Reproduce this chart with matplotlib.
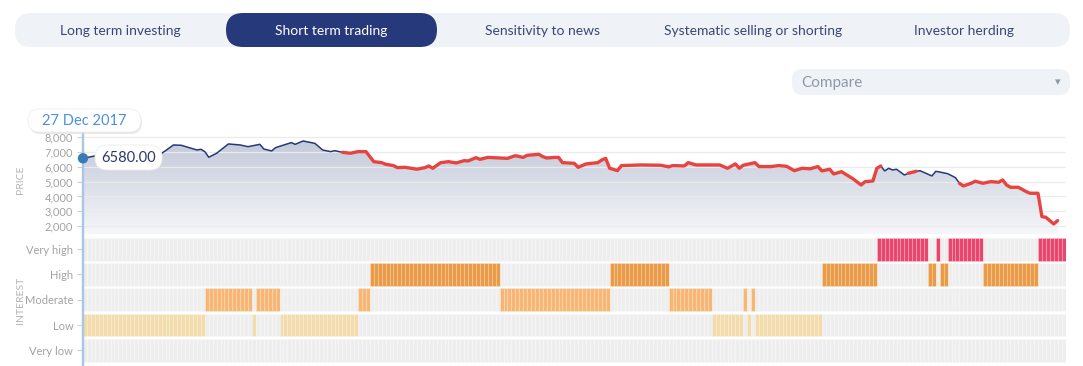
import numpy as np
import matplotlib
matplotlib.use('Agg')
import matplotlib.pyplot as plt
from matplotlib.patches import FancyBboxPatch, Polygon, Circle
from matplotlib.colors import LinearSegmentedColormap

W, H = 1083, 366
plt.rcParams['font.family'] = ['Lato', 'DejaVu Sans']

# ---------------- data ----------------
tabs = ["Long term investing", "Short term trading", "Sensitivity to news",
        "Systematic selling or shorting", "Investor herding"]
active_tab = 1
compare_text = "Compare"
date_label = "27 Dec 2017"
price_label = "6580.00"

n_days = 250
price_day = [0, 3, 10, 15, 20, 21, 23, 25, 27, 29, 30, 31, 32, 34, 37, 40, 42, 45, 46, 48,
             49, 53, 54, 56, 59, 61, 63, 64, 66, 68, 70, 72, 74, 76, 77, 79, 80, 82, 85, 87,
             88, 89, 91, 93, 95, 97, 98, 100, 101, 103, 108, 110, 112, 113, 116, 117, 118, 120, 121, 122,
             125, 126, 128, 131, 132, 133, 134, 136, 137, 142, 147, 149, 150, 153, 154, 156, 162, 164, 166, 167,
             168, 171, 172, 175, 177, 179, 181, 183, 185, 187, 188, 190, 191, 193, 196, 198, 199, 201, 202, 203,
             204, 205, 206, 207, 209, 210, 212, 213, 216, 217, 218, 220, 222, 223, 224, 226, 227, 229, 231, 233,
             234, 235, 236, 238, 240, 241, 243, 244, 245, 247, 248]
price = [6580, 6736, 6850, 6900, 6920, 7095, 7480, 7460, 7300, 7140, 7190, 7030, 6650, 6920, 7550, 7480, 7365, 7525, 7210, 7075,
         7300, 7640, 7525, 7750, 7590, 7140, 7030, 7095, 6985, 6920, 7030, 7030, 6350, 6285, 6175, 6085, 5950, 5970, 5840, 5950,
         6060, 5905, 6285, 6350, 6265, 6420, 6400, 6620, 6510, 6640, 6575, 6755, 6640, 6780, 6850, 6690, 6600, 6640, 6640, 6285,
         6240, 5970, 6200, 6285, 6465, 6575, 5905, 5745, 6085, 6130, 6110, 6000, 6085, 6065, 6285, 6130, 6130, 5905, 6200, 5905,
         6110, 6285, 6020, 6020, 6085, 6040, 5745, 5905, 5870, 6020, 5725, 5840, 5520, 5675, 5180, 4775, 5000, 5045, 5905, 6060,
         5725, 5905, 5790, 5840, 5450, 5565, 5700, 5740, 5385, 5700, 5650, 5540, 5270, 4890, 4710, 4890, 5030, 4890, 5000, 4960,
         5115, 4775, 4620, 4620, 4325, 4215, 4215, 2635, 2590, 2140, 2365]
red_start = [66, 210, 223]
red_end = [203, 212, 248]

levels = ["Very low", "Low", "Moderate", "High", "Very high"]
run_level = ["Low", "Moderate", "Low", "Moderate", "Low", "Moderate", "High", "Moderate", "High",
             "Moderate", "Low", "Moderate", "Low", "Moderate", "Low", "High", "Very high", "High",
             "Very high", "High", "Very high", "High", "Very high"]
run_length = [31, 12, 1, 6, 20, 3, 33, 28, 15, 11, 8, 1, 1, 1, 17, 14, 13, 2, 1, 2, 9, 14, 7]
price_ticks = [2000, 3000, 4000, 5000, 6000, 7000, 8000]

# ---------------- styles ----------------
level_colors = {"Very low": "#dcdcdc", "Low": "#f2dcab", "Moderate": "#f7b673",
                "High": "#eb9a45", "Very high": "#e8466d"}
gray_cell = "#eeeeee"
navy = "#26397a"
red = "#e8443f"
axis_gray = "#a3a3a3"


def rect(x0, y0, x1, y1):
    return [x0 / W, 1 - y1 / H, (x1 - x0) / W, (y1 - y0) / H]


fig = plt.figure(figsize=(W / 100, H / 100), dpi=100)
fig.patch.set_facecolor('white')

# ---------------- price panel ----------------
X0, X1 = 83, 1065.5
ax = fig.add_axes(rect(X0, 133, X1, 234))
ymin, ymax = 1460, 8290
ax.set_xlim(0, n_days)
ax.set_ylim(ymin, ymax)
for s in ax.spines.values():
    s.set_visible(False)
ax.set_xticks([])
ax.set_yticks(price_ticks)
ax.set_yticklabels([f"{v:,}" for v in price_ticks])
ax.tick_params(axis='y', length=4, width=0.8, color='#cfcfcf', labelcolor=axis_gray,
               labelsize=8, pad=3)

pd_arr = np.array(price_day, dtype=float)
pr_arr = np.array(price, dtype=float)

# gradient fill
cmap = LinearSegmentedColormap.from_list('g', ['#f6f7fa', '#c2c9d9'])
grad = np.linspace(0, 1, 256).reshape(-1, 1)
im = ax.imshow(grad, extent=(0, n_days, ymin, 7800), origin='lower', aspect='auto',
               cmap=cmap, zorder=1)
verts = [(pd_arr[0], ymin)] + list(zip(pd_arr, pr_arr)) + [(pd_arr[-1], ymin)]
poly = Polygon(verts, closed=True, facecolor='none', edgecolor='none', transform=ax.transData)
ax.add_patch(poly)
im.set_clip_path(poly)

for v in price_ticks:
    ax.axhline(v, color='#ebebeb', lw=0.9, zorder=2)

ax.plot(pd_arr, pr_arr, color=navy, lw=1.1, zorder=3, solid_joinstyle='round')
for s0, s1 in zip(red_start, red_end):
    m = (pd_arr >= s0) & (pd_arr <= s1)
    ax.plot(pd_arr[m], pr_arr[m], color=red, lw=2.4, zorder=4,
            solid_joinstyle='round', solid_capstyle='round')

# ---------------- interest heatmap ----------------
hx = fig.add_axes(rect(X0, 236.5, X1, 363))
hx.set_xlim(0, n_days)
hx.set_ylim(0, 5)
for s in hx.spines.values():
    s.set_visible(False)
hx.set_xticks([])
hx.set_yticks(np.arange(5) + 0.5)
hx.set_yticklabels(levels)
hx.tick_params(axis='y', length=4, width=0.8, color='#cfcfcf', labelcolor=axis_gray,
               labelsize=8, pad=3)

day_level = np.repeat(np.array(run_level), run_length)
days = np.arange(n_days)
for li, lev in enumerate(levels):
    cols = [level_colors[lev] if d == lev else gray_cell for d in day_level]
    hx.bar(days, 0.9, bottom=li + 0.05, width=1.0, align='edge', color=cols,
           edgecolor=(1, 1, 1, 0.28), linewidth=0.45)

# ---------------- overlay ----------------
ov = fig.add_axes([0, 0, 1, 1])
ov.set_xlim(0, W)
ov.set_ylim(H, 0)
ov.axis('off')
ov.patch.set_alpha(0)

# nav bar
ov.add_patch(FancyBboxPatch((15, 13), 1055, 34, boxstyle="round,pad=0,rounding_size=16",
                            facecolor='#eff3f7', edgecolor='none'))
tab_w = 1055 / len(tabs)
for i, t in enumerate(tabs):
    cx = 15 + tab_w * (i + 0.5)
    if i == active_tab:
        ov.add_patch(FancyBboxPatch((226, 13), 211, 34, boxstyle="round,pad=0,rounding_size=17",
                                    facecolor=navy, edgecolor='none'))
        ov.text(cx, 31, t, color='white', fontsize=10, ha='center', va='center')
    else:
        ov.text(cx, 31, t, color='#3a4777', fontsize=10, ha='center', va='center')

# compare dropdown
ov.add_patch(FancyBboxPatch((792, 69), 278, 26, boxstyle="round,pad=0,rounding_size=11",
                            facecolor='#eff3f7', edgecolor='none'))
ov.text(801, 82.5, compare_text, color='#8e99a6', fontsize=11, ha='left', va='center')
ov.text(1058, 82, "\u25BE", color='#8e99a6', fontsize=8, ha='center', va='center',
        family='DejaVu Sans')

# axis titles
ov.text(20, 180, "PRICE", rotation=90, color='#b5b5b5', fontsize=7.5, ha='center', va='center')
ov.text(20, 300, "INTEREST", rotation=90, color='#b5b5b5', fontsize=7.5, ha='center', va='center')

# cursor line
ov.plot([83, 83], [128, 366], color='#a9c6e3', lw=1.7, zorder=1)

# date label
ov.add_patch(FancyBboxPatch((29, 111), 113, 23, boxstyle="round,pad=0,rounding_size=11.5",
                            facecolor='#d8d8d8', edgecolor='none', alpha=0.6, zorder=2))
ov.add_patch(FancyBboxPatch((28, 109), 113, 23, boxstyle="round,pad=0,rounding_size=11.5",
                            facecolor='white', edgecolor='#eeeeee', lw=0.6, zorder=3))
ov.text(84.5, 121, date_label, color='#4a90e2', fontsize=10.5, ha='center', va='center', zorder=4)

# price label
ov.add_patch(FancyBboxPatch((96, 147), 67, 25, boxstyle="round,pad=0,rounding_size=12.5",
                            facecolor='#d8d8d8', edgecolor='none', alpha=0.6, zorder=2))
ov.add_patch(FancyBboxPatch((95, 145), 67, 25, boxstyle="round,pad=0,rounding_size=12.5",
                            facecolor='white', edgecolor='#eeeeee', lw=0.6, zorder=3))
ov.text(128.5, 157.5, price_label, color='#2a3a6b', fontsize=10.5, ha='center', va='center', zorder=4)

# marker at cursor (placed via the price axes' data transform)
mx, my = ov.transData.inverted().transform(ax.transData.transform((pd_arr[0], pr_arr[0])))
ov.add_patch(Circle((mx, my), 4.5, color='#3b7bb5', zorder=5))

fig.savefig('out.png', dpi=100, facecolor='white')
